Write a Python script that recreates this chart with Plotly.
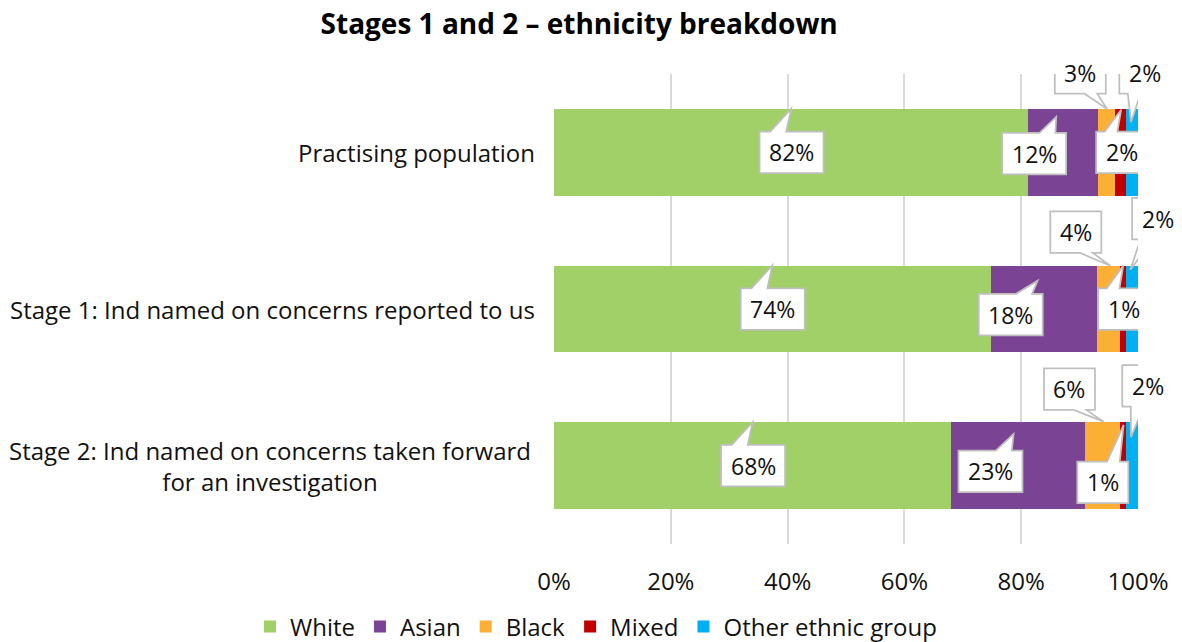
import numpy as np
import plotly.graph_objects as go

# ---- data -------------------------------------------------------------
categories = [
    "Practising population",
    "Stage 1: Ind named on concerns reported to us",
    "Stage 2: Ind named on concerns taken forward<br>for an investigation",
]
groups = ["White", "Asian", "Black", "Mixed", "Other ethnic group"]
white = [82, 74, 68]
asian = [12, 18, 23]
black = [3, 4, 6]
mixed = [2, 1, 1]
other = [2, 2, 2]
x_ticks = [0, 20, 40, 60, 80, 100]

# ---- style ------------------------------------------------------------
colors = ["#A1CF68", "#7B4393", "#FBAF34", "#C00000", "#00B0F0"]
FONT = "Open Sans"
TEXT = "#111111"
CALLOUT_LINE = "#BFBFBF"
BOX_H = 41.5
PLOT_L, PLOT_R, PLOT_T, PLOT_B = 554, 1138, 74, 544
W, H = 1182, 642

# callout placement per (category, group) in screen pixels relative to the
# segment centre: (box dx, box dy) and tail tip (dx, dy), y pointing down
callout_offsets = [
    [(0.5, 0), (-28.7, 1.2), (-25.9, -79.4), (1.0, 0), (12.6, -79.4)],
    [(0.5, 0), (-32.9, 5.6), (-32.7, -76.8), (0.5, 0), (25.5, -90.5)],
    [(0.5, 0), (-27.8, 5.8), (-33.5, -76.5), (-20.6, 16.8), (15.6, -79.9)],
]
tail_tips = [
    [(0, -43.5), (-6.6, -35.4), (0.8, -43.4), (0.5, -42.5), (-1.2, -30.0)],
    [(0, -43.5), (-6.0, -28.3), (1.8, -43.3), (0, -43.5), (-1.8, -39.3)],
    [(0, -43.5), (-4.7, -31.7), (0.6, -44.0), (0.2, -40.7), (-1.2, -28.4)],
]
label_shift = [-17, -17, -21]

series = [white, asian, black, mixed, other]
values = np.array(series, dtype=float)          # groups x categories
shares = values / values.sum(axis=0) * 100.0     # same as barnorm="percent"
left_edges = np.cumsum(shares, axis=0) - shares
mids = left_edges + shares / 2.0
n_cat = len(categories)

fig = go.Figure()
for g, name in enumerate(groups):
    fig.add_trace(go.Bar(
        y=list(range(n_cat)),
        x=series[g],
        name=name,
        orientation="h",
        marker=dict(color=colors[g], line=dict(width=0)),
        hoverinfo="skip",
    ))


def callout_path(bx, by, tx, ty, w, h):
    """Rectangular callout with a wedge tail, in pixels (screen y down)."""
    left, right = bx - w / 2, bx + w / 2
    top, bottom = by - h / 2, by + h / 2
    dx, dy = tx - bx, ty - by
    if abs(dx) / w > abs(dy) / h:
        f1, f2 = (7, 10) if dy > 0 else (2, 5)
        y1, y2 = top + h * f1 / 12, top + h * f2 / 12
        if dx < 0:
            pts = [(left, top), (right, top), (right, bottom), (left, bottom),
                   (left, y2), (tx, ty), (left, y1)]
        else:
            pts = [(left, top), (right, top), (right, y1), (tx, ty),
                   (right, y2), (right, bottom), (left, bottom)]
    else:
        f1, f2 = (7, 10) if dx > 0 else (2, 5)
        x1, x2 = left + w * f1 / 12, left + w * f2 / 12
        if dy < 0:
            pts = [(left, top), (x1, top), (tx, ty), (x2, top), (right, top),
                   (right, bottom), (left, bottom)]
        else:
            pts = [(left, top), (right, top), (right, bottom), (x2, bottom),
                   (tx, ty), (x1, bottom), (left, bottom)]
    return "M" + " L".join(f"{x:.2f},{-y:.2f}" for x, y in pts) + " Z"


shapes = []
annotations = []
for c in range(n_cat):
    for g in range(len(groups)):
        label = f"{series[g][c]:.0f}%"
        w = 51 if len(label) <= 2 else 64
        bx, by = callout_offsets[c][g]
        tx, ty = tail_tips[c][g]
        shapes.append(dict(
            type="path", xref="x", yref="y",
            xsizemode="pixel", ysizemode="pixel",
            xanchor=float(mids[g, c]), yanchor=c,
            path=callout_path(bx, by, tx, ty, w, BOX_H),
            fillcolor="white", line=dict(color=CALLOUT_LINE, width=1.75),
            layer="above",
        ))
        annotations.append(dict(
            x=float(mids[g, c]), y=c, xref="x", yref="y",
            text=label, showarrow=False,
            xshift=bx, yshift=-by,
            font=dict(family=FONT, size=23, color=TEXT),
        ))

for c, cat in enumerate(categories):
    annotations.append(dict(
        x=0, y=c, xref="paper", yref="y",
        text=cat, showarrow=False, xanchor="right", align="center",
        xshift=label_shift[c],
        font=dict(family=FONT, size=24, color=TEXT),
    ))

plot_w = PLOT_R - PLOT_L
plot_h = PLOT_B - PLOT_T

fig.update_layout(
    width=W, height=H, autosize=False,
    margin=dict(l=PLOT_L, r=W - PLOT_R, t=PLOT_T, b=H - PLOT_B,
                autoexpand=False),
    paper_bgcolor="white", plot_bgcolor="white",
    barmode="stack", barnorm="percent", bargap=0.447,
    font=dict(family=FONT, size=24, color=TEXT),
    title=dict(
        text="<b>Stages 1 and 2 – ethnicity breakdown</b>",
        x=0.49, xanchor="center", xref="container",
        y=1 - 24 / H, yanchor="middle", yref="container",
        font=dict(family=FONT, size=28, color="#000000"),
    ),
    xaxis=dict(
        range=[0, 100], autorange=False, tickmode="array", tickvals=x_ticks,
        ticktext=[f"{t}%" for t in x_ticks],
        showgrid=True, gridcolor="#D9D9D9", gridwidth=1.5,
        zeroline=False, showline=False, automargin=False,
        ticks="outside", ticklen=16, tickcolor="rgba(0,0,0,0)",
        tickfont=dict(family=FONT, size=24, color=TEXT),
        fixedrange=True,
    ),
    yaxis=dict(
        range=[n_cat - 0.5, -0.5], autorange=False, automargin=False,
        showticklabels=False, showgrid=False, zeroline=False,
        fixedrange=True,
    ),
    legend=dict(
        orientation="h", xref="paper", yref="paper",
        x=(250 - PLOT_L) / plot_w, xanchor="left",
        y=(PLOT_B - 627) / plot_h, yanchor="middle",
        bgcolor="rgba(0,0,0,0)",
        font=dict(family=FONT, size=24, color=TEXT),
        traceorder="normal", itemclick=False, itemdoubleclick=False,
        itemwidth=30, tracegroupgap=0,
    ),
    shapes=shapes,
    annotations=annotations,
)

fig.write_html("out.html")
